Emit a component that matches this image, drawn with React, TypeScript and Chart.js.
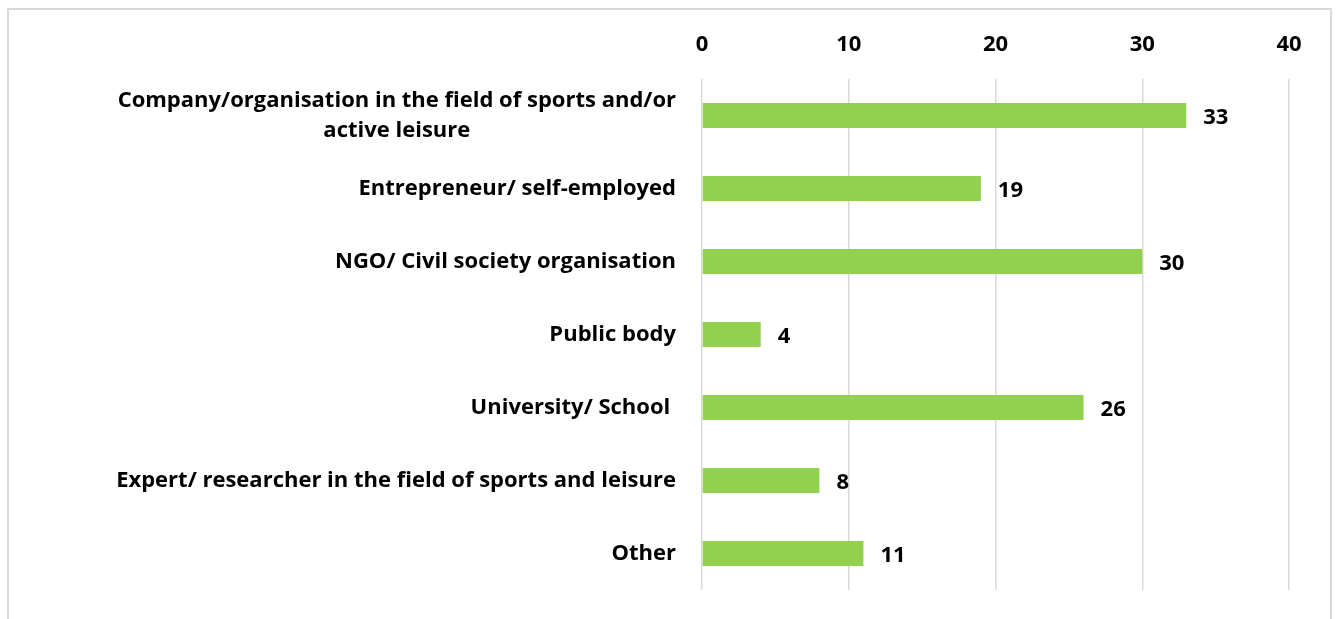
import React, { useEffect, useRef } from "react";
import { Chart, registerables } from "chart.js";

Chart.register(...registerables);

const categories: (string | string[])[] = [
  ["Company/organisation in the field of sports and/or", "active leisure"],
  "Entrepreneur/ self-employed",
  "NGO/ Civil society organisation",
  "Public body",
  "University/ School ",
  "Expert/ researcher in the field of sports and leisure",
  "Other",
];
const values: number[] = [33, 19, 30, 4, 26, 8, 11];
const xTicks: number[] = [0, 10, 20, 30, 40];

const FONT = "'Open Sans', sans-serif";
const SIZE = 22;
const LINE = 30;

const valueLabels = {
  id: "valueLabels",
  afterDatasetsDraw(chart: any) {
    const ctx = chart.ctx;
    const meta = chart.getDatasetMeta(0);
    ctx.save();
    ctx.font = `bold ${SIZE}px ${FONT}`;
    ctx.fillStyle = "#000";
    ctx.textAlign = "left";
    ctx.textBaseline = "middle";
    meta.data.forEach((bar: any, i: number) => {
      ctx.fillText(String(values[i]), bar.x + 17, bar.y + 2);
    });
    ctx.restore();
  },
};

const categoryLabels = {
  id: "categoryLabels",
  afterDraw(chart: any) {
    const ctx = chart.ctx;
    const yScale = chart.scales.y;
    const right = chart.chartArea.left - 26;
    ctx.save();
    ctx.font = `bold ${SIZE}px ${FONT}`;
    ctx.fillStyle = "#000";
    ctx.textAlign = "center";
    ctx.textBaseline = "middle";
    categories.forEach((lab, i) => {
      const lines = Array.isArray(lab) ? lab : [lab];
      const w = Math.max(...lines.map((l) => ctx.measureText(l).width));
      const cx = right - w / 2;
      const y0 = yScale.getPixelForTick(i) - ((lines.length - 1) * LINE) / 2;
      lines.forEach((l, k) => {
        const lw = ctx.measureText(l).width;
        // trailing spaces are kept as part of the right-aligned text block
        ctx.fillText(l, cx, y0 + k * LINE);
        void lw;
      });
    });
    ctx.restore();
  },
};

export default function App() {
  const ref = useRef<HTMLCanvasElement>(null);
  useEffect(() => {
    const W = 1321;
    const H = 610;
    const areaLeft = 693;
    const areaRight = 1280;
    const areaTop = 69;
    const areaBottom = 580;
    const chart = new Chart(ref.current!, {
      type: "bar",
      data: {
        labels: categories,
        datasets: [
          {
            data: values,
            backgroundColor: "#92D050",
            borderWidth: 0,
            barPercentage: 0.68,
            categoryPercentage: 0.5,
          },
        ],
      },
      options: {
        indexAxis: "y",
        responsive: false,
        animation: false,
        maintainAspectRatio: false,
        layout: { padding: { left: 0, right: W - areaRight, top: 0, bottom: H - areaBottom } },
        plugins: { legend: { display: false }, tooltip: { enabled: false } },
        scales: {
          x: {
            position: "top",
            min: 0,
            max: 40,
            afterBuildTicks: (s: any) => {
              s.ticks = xTicks.map((v) => ({ value: v }));
            },
            afterFit: (s: any) => {
              s.height = areaTop;
              s.paddingLeft = 0;
              s.paddingRight = 0;
            },
            grid: { color: "#d9d9d9", lineWidth: 1.5, drawTicks: false },
            border: { display: false },
            ticks: {
              padding: 21,
              color: "#000",
              font: { family: FONT, size: SIZE, weight: "bold" },
            },
          },
          y: {
            afterFit: (s: any) => {
              s.width = areaLeft;
              s.paddingTop = 0;
              s.paddingBottom = 0;
            },
            grid: { display: false, drawTicks: false },
            border: { display: false },
            ticks: { display: false },
          },
        },
      },
      plugins: [valueLabels, categoryLabels],
    });
    return () => chart.destroy();
  }, []);
  return (
    <div
      style={{
        position: "fixed",
        left: 7,
        top: 8,
        width: 1321,
        height: 620,
        border: "2px solid #d9d9d9",
        background: "#fff",
      }}
    >
      <canvas ref={ref} width={1321} height={610} style={{ display: "block" }} />
    </div>
  );
}
